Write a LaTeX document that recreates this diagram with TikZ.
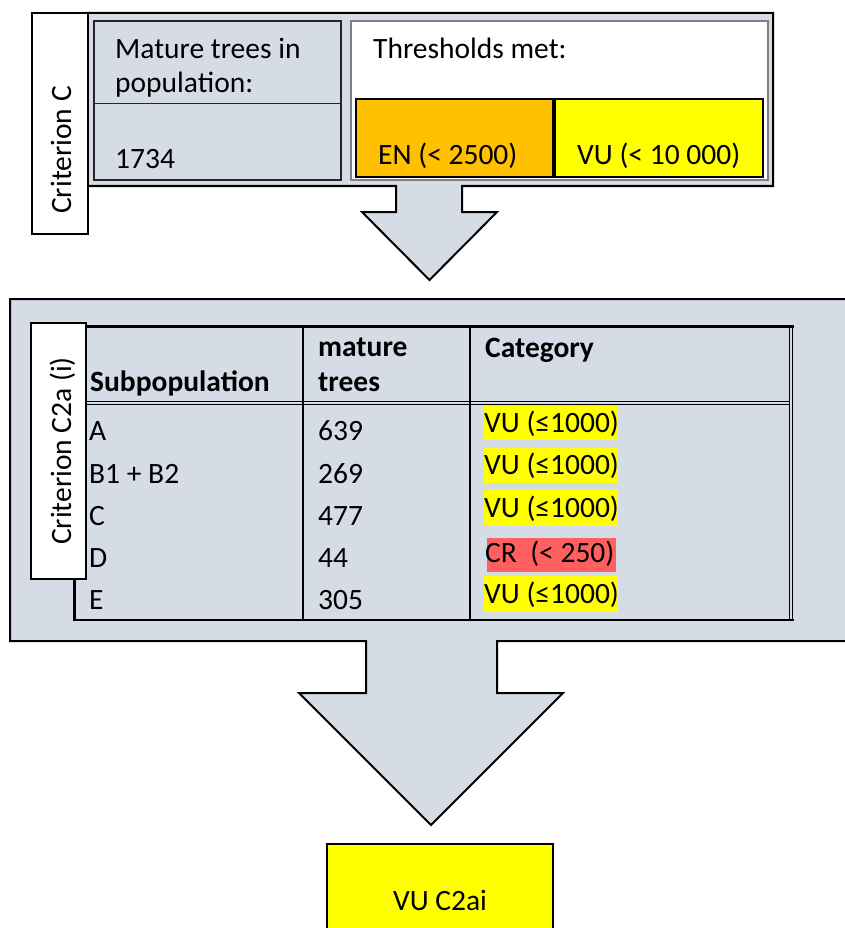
\documentclass[tikz,border=0pt]{standalone}
\usepackage{fontspec}
\setmainfont{Carlito}
\definecolor{panel}{HTML}{D6DCE5}
\definecolor{enorange}{HTML}{FFC000}
\definecolor{vuyellow}{HTML}{FFFF00}
\definecolor{crred}{HTML}{FF5F5F}
\begin{document}
\begin{tikzpicture}[x=1pt,y=-1pt,
  txt/.style={anchor=base west,inner sep=0pt,font=\fontsize{29.5}{35}\selectfont},
  btxt/.style={txt,font=\fontsize{29.5}{35}\selectfont\bfseries},
  rtxt/.style={anchor=base,inner sep=0pt,rotate=90,font=\fontsize{29.5}{35}\selectfont},
  panelshape/.style={draw=black,line width=2pt,fill=panel,line join=miter},
  labelbox/.style={draw=black,line width=1.3pt,fill=white},
  hl/.style={fill=vuyellow,draw=none}]
\useasboundingbox (0,0) rectangle (845,928);
\clip (0,0) rectangle (845,928);
\fill[white] (0,0) rectangle (845,928);

% ---------- top panel with arrow ----------
\draw[panelshape] (396,186) -- (86,186) -- (86,13) -- (773,13) -- (773,186)
  -- (462,186) -- (462,212) -- (497,212) -- (429.5,280) -- (362,212) -- (396,212) -- cycle;
\draw[line width=1.5pt,draw=black!85,fill=panel] (94,21) rectangle (341,180);
\draw[line width=1pt,draw=black!85] (94,104) -- (341,104);
\node[txt] (mt1) at (115,59) {Mature trees in};
\node[txt] (mt2) at (115,93) {population:};
\node[txt] (num) at (115,169) {1734};

\draw[line width=2pt,draw=black!50,fill=white] (351,21) rectangle (768,180);
\node[txt] (thr) at (373,59) {Thresholds met:};
\draw[line width=1.3pt,fill=enorange] (356,99) rectangle (553,177);
\draw[line width=1.3pt,fill=vuyellow] (555,99) rectangle (763,177);
\node[txt] (en) at (378,165) {EN (< 2500)};
\node[txt] (vu) at (577,165) {VU (< 10 000)};

\draw[labelbox] (32,13) rectangle (88,234);
\node[rtxt] (critc) at (71,150) {Criterion C};

% ---------- middle panel with arrow ----------
\draw[panelshape] (366,641) -- (10,641) -- (10,299) -- (860,299) -- (860,641)
  -- (497,641) -- (497,693) -- (563,693) -- (431,825) -- (299,693) -- (366,693) -- cycle;

% table
\draw[line width=3pt] (72.5,326) -- (793.5,326);
\draw[line width=3pt] (74,326) -- (74,621);
\draw[line width=2.5pt] (72.5,620) -- (793.5,620);
\draw[line width=1pt] (789.5,326) -- (789.5,620);
\draw[line width=1.5pt] (792.5,326) -- (792.5,620);
\draw[line width=1pt] (76,401) -- (790,401);
\draw[line width=1pt] (76,404.5) -- (790,404.5);
\draw[line width=1.5pt] (303,326) -- (303,620);
\draw[line width=1.5pt] (470,326) -- (470,620);

\node[btxt] (hsub) at (90,391) {Subpopulation};
\node[btxt] (hmat1) at (318,356) {mature};
\node[btxt] (hmat2) at (318,391) {trees};
\node[btxt] (hcat) at (485,357) {Category};

\fill[hl] (484,406) rectangle (618,440);
\fill[hl] (484,448) rectangle (618,483);
\fill[hl] (484,490) rectangle (618,526);
\fill[crred] (487,538) rectangle (616,572);
\fill[hl] (484,576) rectangle (618,612);

\node[txt] (ra) at (89,440) {A};
\node[txt] (rb) at (89,483) {B1 + B2};
\node[txt] (rc) at (89,525) {C};
\node[txt] (rd) at (89,567) {D};
\node[txt] (re) at (89,609) {E};
\node[txt] (na) at (318,440) {639};
\node[txt] (nb) at (318,483) {269};
\node[txt] (nc) at (318,525) {477};
\node[txt] (nd) at (318,567) {44};
\node[txt] (ne) at (318,609) {305};
\node[txt] (ca) at (484,432) {VU (≤1000)};
\node[txt] (cb) at (484,474) {VU (≤1000)};
\node[txt] (cc) at (484,517) {VU (≤1000)};
\node[txt] (cd) at (485,562) {CR\ \ (< 250)};
\node[txt] (ce) at (484,603) {VU (≤1000)};

\draw[labelbox] (31,323) rectangle (86,579);
\node[rtxt] (critc2) at (71,451) {Criterion C2a (i)};

% ---------- result ----------
\draw[line width=1.5pt,fill=vuyellow] (327,844) rectangle (553,940);
\node[txt,anchor=base] (res) at (440,910) {VU C2ai};
\end{tikzpicture}
\end{document}
